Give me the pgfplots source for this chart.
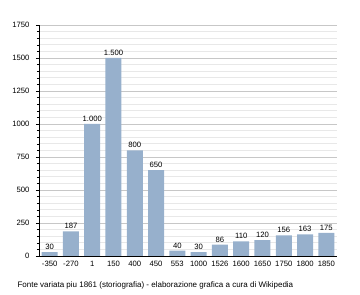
\documentclass[border=0pt]{standalone}
\usepackage{fontspec}
\setmainfont{Liberation Sans}
\usepackage{pgfplots}
\pgfplotsset{compat=1.18}
\definecolor{barblue}{HTML}{97B0CC}
\begin{document}
\begin{tikzpicture}
\useasboundingbox (-39pt,-39pt) rectangle (321pt,256pt);
\begin{axis}[
  scale only axis, width=298pt, height=231pt,
  at={(0,0)}, anchor=south west,
  ymin=0, ymax=1750,
  xmin=-0.5, xmax=13.5,
  ytick={0,250,...,1750},
  minor y tick num=4,
  xtick={0,...,13},
  xticklabels={-350,-270,1,150,400,450,553,1000,1526,1600,1650,1750,1800,1850},
  axis x line*=bottom, axis y line*=left,
  axis line style={black,-},
  ymajorgrids, yminorgrids,
  major grid style={draw=black!22, line width=0.8pt},
  minor grid style={draw=black!9, line width=0.8pt},
  xtick style={draw=none},
  ytick style={black},
  tick align=outside,
  major tick length=3pt, minor tick length=2pt,
  tick label style={font=\fontsize{7.7}{9}\selectfont},
  /pgf/number format/assume math mode=true,
  yticklabel style={/pgf/number format/1000 sep={}, xshift=-3pt},
  xticklabel style={yshift=1pt},
  ybar, bar width=16pt,
  nodes near coords,
  every node near coord/.append style={font=\fontsize{7.7}{9}\selectfont, /pgf/number format/1000 sep={.}, /pgf/number format/assume math mode=true, yshift=-1pt},
  clip=false,
]
\addplot[fill=barblue, draw=none] coordinates {
(0,30) (1,187) (2,1000) (3,1500) (4,800) (5,650) (6,40) (7,30) (8,86) (9,110) (10,120) (11,156) (12,163) (13,175)};
\end{axis}
\node[anchor=west, font=\fontsize{8}{9}\selectfont] at (-25pt,-29pt) {Fonte variata piu 1861 (storiografia) - elaborazione grafica a cura di Wikipedia};
\end{tikzpicture}
\end{document}
